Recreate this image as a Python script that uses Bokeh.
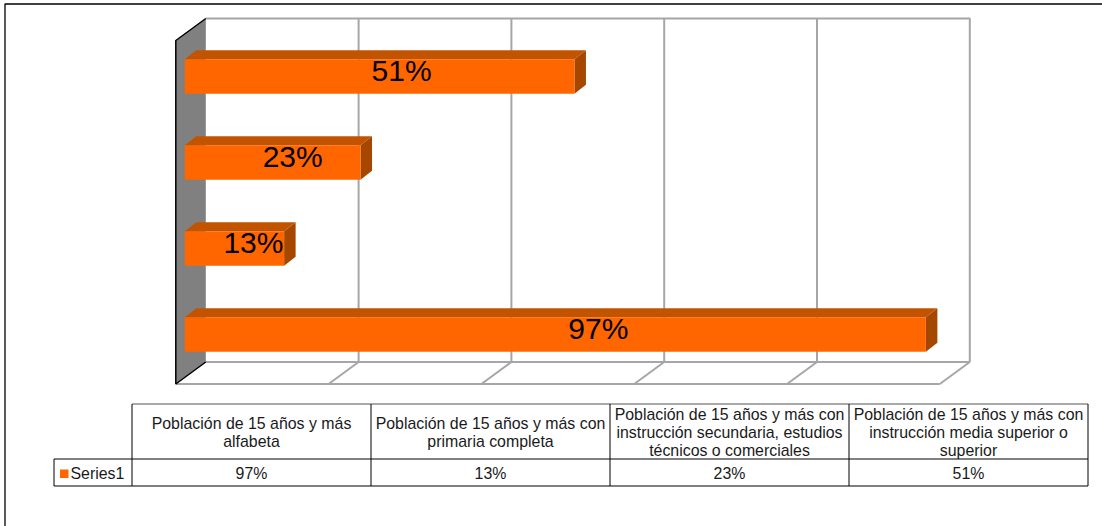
from bokeh.plotting import figure
from bokeh.embed import file_html
from bokeh.resources import INLINE
from bokeh.models import Range1d
from bokeh.core.properties import value

categories = [
    ["Población de 15 años y más", "alfabeta"],
    ["Población de 15 años y más con", "primaria completa"],
    ["Población de 15 años y más con", "instrucción secundaria, estudios", "técnicos o comerciales"],
    ["Población de 15 años y más con", "instrucción media superior o", "superior"],
]
series_name = "Series1"
series_values = [97, 13, 23, 51]
grid_ticks = [0, 20, 40, 60, 80, 100]

W, H = 1102, 526
PX_PER_PCT = 7.64
X0 = 184.3            # px position of 0 % on the bars' front plane
BAR_Y0, BAR_STEP, BAR_H = 334.0, 86.0, 34.5
BAR_DX, BAR_DY = 11.5, 9.0
WALL_DX = 21.0        # back wall zero relative to the bars' front plane
FLOOR_DX, FLOOR_DY = 30.0, 22.0
WALL_TOP, WALL_BOTTOM = 18.0, 361.5
FONT = value("Liberation Sans")
ORANGE, TOP_C, SIDE_C = "#FF6600", "#C25400", "#A64700"
GRID_C = "#A6A6A6"

p = figure(width=W, height=H, output_backend="svg", toolbar_location=None,
           x_range=Range1d(-X0 / PX_PER_PCT, (W - X0) / PX_PER_PCT),
           y_range=Range1d(H, 0), min_border=0, outline_line_color=None,
           background_fill_color="white", border_fill_color="white",
           margin=(0, 0, 0, 0))
p.xaxis.visible = False
p.yaxis.visible = False
p.grid.visible = False

def dx(px):
    """Horizontal pixel distance expressed in x-range units."""
    return px / PX_PER_PCT

def xp(px):
    """Absolute pixel column expressed in x-range units."""
    return (px - X0) / PX_PER_PCT

# chart frame
p.line([xp(4.5), xp(4.5), xp(W)], [H, 3.5, 3.5], line_color="black", line_width=1.3)

# side wall, back wall outline, floor
wall_left = dx(WALL_DX)
left_x = wall_left - dx(FLOOR_DX)
p.patch([left_x, wall_left, wall_left, left_x],
        [WALL_TOP + FLOOR_DY, WALL_TOP, WALL_BOTTOM, WALL_BOTTOM + FLOOR_DY],
        fill_color="#808080", line_color=None)
right_x = wall_left + grid_ticks[-1]
p.line([wall_left, right_x, right_x], [WALL_TOP, WALL_TOP, WALL_BOTTOM], line_color=GRID_C, line_width=2)
for t in grid_ticks[1:-1]:
    p.line([wall_left + t] * 2, [WALL_TOP, WALL_BOTTOM], line_color=GRID_C, line_width=2)
p.line([wall_left, right_x], [WALL_BOTTOM] * 2, line_color=GRID_C, line_width=2)
for t in grid_ticks[1:]:
    p.line([wall_left + t, wall_left + t - dx(FLOOR_DX)], [WALL_BOTTOM, WALL_BOTTOM + FLOOR_DY],
           line_color=GRID_C, line_width=2)
p.line([left_x, right_x - dx(FLOOR_DX)], [WALL_BOTTOM + FLOOR_DY] * 2, line_color=GRID_C, line_width=2)
p.line([wall_left, left_x, left_x, wall_left],
       [WALL_TOP, WALL_TOP + FLOOR_DY, WALL_BOTTOM + FLOOR_DY, WALL_BOTTOM],
       line_color="black", line_width=1.5)

# 3-D bars
label_shift = [43, 19, 20, 22]
for i, v in enumerate(series_values):
    yc = BAR_Y0 - BAR_STEP * i
    t, b = yc - BAR_H / 2, yc + BAR_H / 2
    d, e = dx(BAR_DX), BAR_DY
    p.patch([0, v, v + d, d], [t, t, t - e, t - e], fill_color=TOP_C, line_color=None)
    p.patch([v, v + d, v + d, v], [t, t - e, b - e, b], fill_color=SIDE_C, line_color=None)
    p.patch([0, v, v, 0], [t, t, b, b], fill_color=ORANGE, line_color=None)
    p.text([v / 2 + dx(label_shift[i])], [yc - 6.5], text=[f"{v}%"], text_font=FONT,
           text_font_size="30px", text_color="black", text_align="center", text_baseline="middle")

# data table
cols = [131.5, 370.5, 609.5, 848.5, 1087.5]
T, M, B, LEFT = 403.5, 458.5, 485.5, 53.5
def hline(a, c, y, color="black"):
    p.line([xp(a), xp(c)], [y, y], line_color=color, line_width=1)
def vline(x, a, c):
    p.line([xp(x), xp(x)], [a, c], line_color="black", line_width=1)
hline(cols[0], cols[-1], T, "#555555")
hline(LEFT, cols[-1], M)
hline(LEFT, cols[-1], B)
vline(LEFT, M, B)
for c in cols:
    vline(c, T, B)

LINE_H = 18.3
TXT = "15.9px"
TXT_C = "#1a1a1a"
for i, lines in enumerate(categories):
    xc = (cols[i] + cols[i + 1]) / 2
    n = len(lines)
    for j, s in enumerate(lines):
        y = (T + M) / 2 + 1 + (j - (n - 1) / 2) * LINE_H
        p.text([xp(xc)], [y], text=[s], text_font=FONT, text_font_size=TXT,
               text_color=TXT_C, text_align="center", text_baseline="middle")
    p.text([xp(xc)], [(M + B) / 2 + 1], text=[f"{series_values[i]}%"], text_font=FONT, text_font_size=TXT,
           text_color=TXT_C, text_align="center", text_baseline="middle")

# legend key
p.patch([xp(59.5), xp(68), xp(68), xp(59.5)], [469, 469, 477.5, 477.5], fill_color=ORANGE, line_color=None)
p.text([xp(70)], [(M + B) / 2 + 1], text=[series_name], text_font=FONT, text_font_size=TXT,
       text_color=TXT_C, text_align="left", text_baseline="middle")

open("out.html", "w").write(file_html(p, INLINE))
